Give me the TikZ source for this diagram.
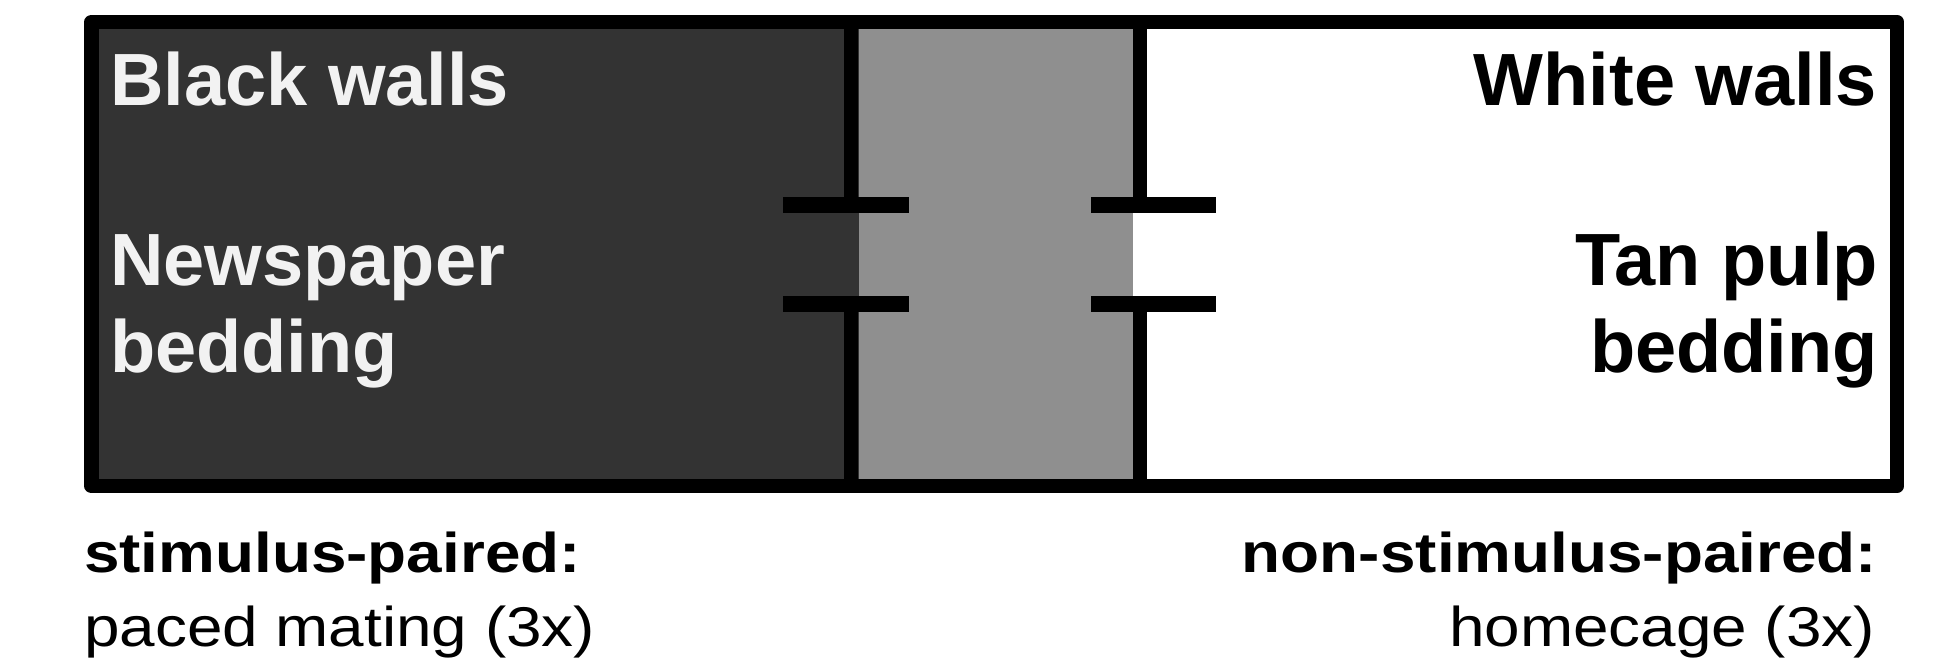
\documentclass[tikz,border=0pt]{standalone}
\usepackage{fontspec}
\setmainfont{Liberation Sans}
\newfontfamily\widefont[FakeStretch=1.14]{Liberation Sans}
\definecolor{darkfill}{HTML}{333333}
\definecolor{midfill}{HTML}{8F8F8F}
\definecolor{lighttext}{HTML}{F2F2F2}
\begin{document}
\begin{tikzpicture}[x=1pt,y=-1pt,
  wall/.style={line width=14.5pt,line join=round,draw=black},
  tick/.style={line width=16pt,draw=black},
  bigtext/.style={inner sep=0pt,font=\fontsize{74}{87}\selectfont\bfseries,align=left},
  captext/.style={inner sep=0pt,font=\widefont\fontsize{56}{74}\selectfont},
  capbold/.style={inner sep=0pt,font=\widefont\fontsize{56}{74}\selectfont\bfseries},
]
\useasboundingbox (0,0) rectangle (1956,659);
% fills
\fill[darkfill] (91,22) rectangle (858.5,486);
\fill[midfill] (858.5,22) rectangle (1132.5,486);
% named coordinates
\coordinate (tl) at (91.5,22);
\coordinate (br) at (1897,486);
\coordinate (lwtop) at (851,22);
\coordinate (lwa) at (851,205);
\coordinate (lwb) at (851,304);
\coordinate (lwbot) at (851,486);
\coordinate (rwtop) at (1140,22);
\coordinate (rwa) at (1140,205);
\coordinate (rwb) at (1140,304);
\coordinate (rwbot) at (1140,486);
\coordinate (lta1) at (783,205);
\coordinate (lta2) at (909,205);
\coordinate (ltb1) at (783,304);
\coordinate (ltb2) at (909,304);
\coordinate (rta1) at (1091,205);
\coordinate (rta2) at (1216,205);
\coordinate (rtb1) at (1091,304);
\coordinate (rtb2) at (1216,304);
% walls
\draw[wall] (lwtop) -- (lwa);
\draw[wall] (lwb) -- (lwbot);
\draw[wall] (rwtop) -- (rwa);
\draw[wall] (rwb) -- (rwbot);
\draw[tick] (lta1) -- (lta2);
\draw[tick] (ltb1) -- (ltb2);
\draw[tick] (rta1) -- (rta2);
\draw[tick] (rtb1) -- (rtb2);
\draw[wall] (tl) rectangle (br);
% texts
\node[bigtext,text=lighttext,anchor=base west] (bw) at (110,105) {Black walls};
\node[bigtext,text=lighttext,anchor=base west] (np) at (110,372) {Newspaper\\bedding};
\node[bigtext,anchor=base east] (ww) at (1877,105) {White walls};
\node[bigtext,align=right,anchor=base east] (tp) at (1878,372) {Tan pulp\\bedding};
\node[capbold,anchor=base west] (sp) at (84,572) {stimulus-paired:};
\node[captext,anchor=base west] (pm) at (84,646) {paced mating (3x)};
\node[capbold,anchor=base east] (nsp) at (1877,572) {non-stimulus-paired:};
\node[captext,anchor=base east] (hc) at (1875,646) {homecage (3x)};
\end{tikzpicture}
\end{document}
